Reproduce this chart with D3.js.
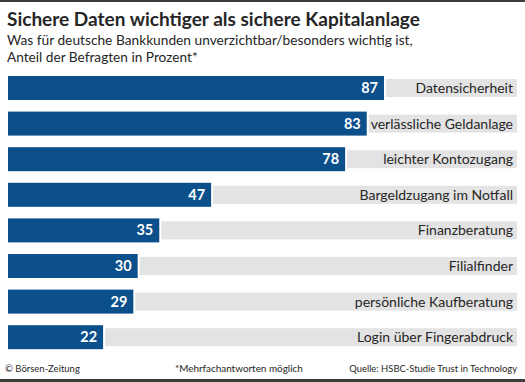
<!DOCTYPE html>
<html><head><meta charset="utf-8">
<script src="https://cdn.jsdelivr.net/npm/d3@7"></script>
<style>
html,body{margin:0;padding:0;background:#fff;}
svg{display:block;font-family:Lato,"Open Sans",sans-serif;}
</style></head>
<body>
<svg id="chart" width="525" height="382"></svg>
<script>
const categories = ["Datensicherheit","verlässliche Geldanlage","leichter Kontozugang","Bargeldzugang im Notfall","Finanzberatung","Filialfinder","persönliche Kaufberatung","Login über Fingerabdruck"];
const values = [87,83,78,47,35,30,29,22];
const title = "Sichere Daten wichtiger als sichere Kapitalanlage";
const subtitle = ["Was für deutsche Bankkunden unverzichtbar/besonders wichtig ist,","Anteil der Befragten in Prozent*"];
const footer = ["© Börsen-Zeitung","*Mehrfachantworten möglich","Quelle: HSBC-Studie Trust in Technology"];

const svg = d3.select("#chart");
const W = 525, H = 382;
const blue = "#0b4f8b", grey = "#e3e3e3", txt = "#262626";

svg.append("rect").attr("x",0).attr("y",0).attr("width",W).attr("height",2).attr("fill","#3c3c3c");
svg.append("rect").attr("x",0).attr("y",379).attr("width",W).attr("height",3).attr("fill","#3c3c3c");

function fit(sel, w){ sel.each(function(){ const l=this.getComputedTextLength(); if(l>w){ const fs=+d3.select(this).attr("font-size"); d3.select(this).attr("font-size", fs*w/l); } }); }

svg.append("text").attr("x",7).attr("y",26).attr("font-size",21).attr("font-weight",700).attr("fill",txt).text(title).call(fit,413);
svg.append("text").attr("x",7).attr("y",45).attr("font-size",14).attr("fill",txt).text(subtitle[0]).call(fit,406);
svg.append("text").attr("x",7).attr("y",62).attr("font-size",14).attr("fill",txt).text(subtitle[1]).call(fit,191);

const x = d3.scaleLinear().domain([0,100]).range([8, 8+432.2]);
const y = d3.scaleBand().domain(categories).range([70.2,355]).paddingInner(0.326).paddingOuter(0.163);
const bh = y.bandwidth();

const rows = svg.append("g").selectAll("g").data(categories).join("g");
rows.append("rect").attr("x",(d,i)=>x(values[i])+2).attr("y",d=>y(d)+3).attr("width",(d,i)=>517-x(values[i])-2).attr("height",bh-6).attr("fill",grey);
rows.append("rect").attr("x",x(0)).attr("y",d=>y(d)).attr("width",(d,i)=>x(values[i])-x(0)).attr("height",bh).attr("fill",blue);
rows.append("text").attr("x",(d,i)=>x(values[i])-6).attr("y",d=>y(d)+bh/2+5).attr("text-anchor","end").attr("font-size",14.5).attr("font-weight",700).attr("fill","#fff").text((d,i)=>values[i]);
rows.append("text").attr("x",513).attr("y",d=>y(d)+bh/2+5).attr("text-anchor","end").attr("font-size",14).attr("fill",txt).text(d=>d);

svg.append("text").attr("x",5).attr("y",372).attr("font-size",10.5).attr("fill",txt).text(footer[0]).call(fit,75);
svg.append("text").attr("x",175).attr("y",372).attr("font-size",10.5).attr("fill",txt).text(footer[1]).call(fit,128);
svg.append("text").attr("x",517).attr("y",372).attr("text-anchor","end").attr("font-size",10.5).attr("fill",txt).text(footer[2]).call(fit,168);
</script>
</body></html>
